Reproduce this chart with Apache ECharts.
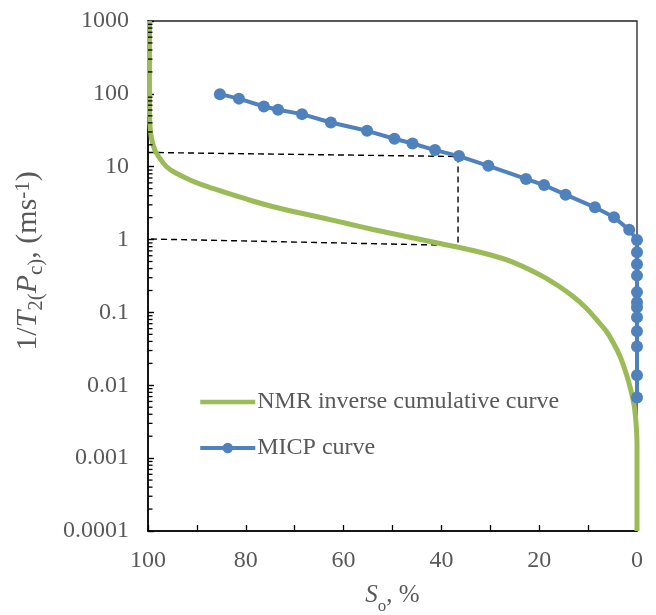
<!DOCTYPE html>
<html>
<head>
<meta charset="utf-8">
<script src="https://cdn.jsdelivr.net/npm/echarts@6/dist/echarts.min.js"></script>
<style>html,body{margin:0;padding:0;background:#fff}#c{width:656px;height:615px}</style>
</head>
<body>
<div id="c"></div>
<script>
// ---- data ----
const micpX = [85.3, 81.4, 76.3, 73.4, 68.5, 62.6, 55.2, 49.6, 45.9, 41.3, 36.4, 30.4, 22.7, 19.0, 14.6, 8.6, 4.7, 1.6, 0, 0, 0, 0, 0, 0, 0, 0, 0, 0, 0, 0];
const micpY = [99, 86, 67, 60.4, 52.7, 40.4, 31.1, 24.2, 20.8, 16.9, 14.0, 10.3, 6.8, 5.6, 4.13, 2.77, 2.02, 1.36, 0.99, 0.67, 0.46, 0.32, 0.19, 0.138, 0.118, 0.086, 0.055, 0.034, 0.0137, 0.0068];

const nmrX = [99.7, 99.7, 99.7, 99.6, 99.3, 98.6, 97.5, 96.2, 94.5, 91.4, 88.3, 84.7, 79.6, 74.4, 69.3, 64.2, 59.1, 54.0, 47.2, 40.3, 33.5, 26.6, 19.8, 16.2, 13.0, 10.4, 8.2, 6.3, 4.8, 3.5, 2.45, 1.7, 1.1, 0.6, 0.3, 0.1, 0, 0];
const nmrY = [1000, 292, 82, 37.4, 24.8, 16.9, 12.8, 10.0, 8.33, 6.58, 5.44, 4.54, 3.55, 2.82, 2.35, 1.98, 1.65, 1.375, 1.10, 0.883, 0.708, 0.525, 0.327, 0.234, 0.164, 0.115, 0.0787, 0.0556, 0.0377, 0.0252, 0.0162, 0.0111, 0.00776, 0.00537, 0.0037, 0.00243, 0.00152, 0.0001];

const guideX = [100, 36.6, 36.6, 100];
const guideY = [15.7, 13.8, 0.83, 1.02];

const xTickValues = [0, 20, 40, 60, 80, 100];
const yDecades = [0.0001, 0.001, 0.01, 0.1, 1, 10, 100];
const yMinorMultipliers = [2, 3, 4, 5, 6, 7, 8, 9];

const seriesNames = ['NMR inverse cumulative curve', 'MICP curve'];

// ---- build ----
const zip = (a, b) => a.map((v, i) => [v, b[i]]);
const minorTicks = [];
yDecades.forEach(d => yMinorMultipliers.forEach(m => minorTicks.push([100, +(d * m).toPrecision(2)])));

const FONT = 'Liberation Serif';
const GRAY = '#595959';

const chart = echarts.init(document.getElementById('c'));
chart.setOption({
  animation: false,
  backgroundColor: '#fff',
  grid: { left: 148, right: 19, top: 21, bottom: 84, containLabel: false, outerBoundsMode: 'none', show: true, borderColor: '#222', borderWidth: 1.3, backgroundColor: 'transparent' },
  legend: {
    data: [
      { name: seriesNames[0], itemStyle: { opacity: 0 }, lineStyle: { width: 4.5 } },
      { name: seriesNames[1], lineStyle: { width: 4 } }
    ],
    orient: 'vertical',
    left: 198, top: 390, padding: 0,
    itemWidth: 55, itemHeight: 13, itemGap: 22,
    textStyle: { fontFamily: FONT, fontSize: 24, color: GRAY, padding: [0, 0, 0, -3] }
  },
  xAxis: {
    type: 'value', inverse: true, min: 0, max: 100, interval: 20,
    axisLine: { show: true, onZero: false, lineStyle: { color: '#000', width: 1.6 } },
    axisTick: { show: true, inside: true, length: 6, lineStyle: { color: '#000', width: 1.3 } },
    minorTick: { show: true, splitNumber: 2, length: 6, lineStyle: { color: '#000', width: 1.3 } },
    splitLine: { show: false },
    axisLabel: { fontFamily: FONT, fontSize: 24, color: GRAY, margin: 18, formatter: v => xTickValues.includes(v) ? String(v) : '' },
    name: '{i|S}{s|o}{n|, %}',
    nameLocation: 'middle', nameGap: 52,
    nameTextStyle: {
      fontFamily: FONT, fontSize: 25, color: GRAY,
      rich: {
        n: { fontFamily: FONT, fontSize: 25, color: GRAY, lineHeight: 26, verticalAlign: 'top' },
        i: { fontFamily: FONT, fontSize: 25, color: GRAY, fontStyle: 'italic', lineHeight: 26, verticalAlign: 'top' },
        s: { fontFamily: FONT, fontSize: 17, color: GRAY, lineHeight: 32, verticalAlign: 'bottom' }
      }
    }
  },
  yAxis: {
    type: 'log', logBase: 10, min: 0.0001, max: 1000,
    axisLine: { show: true, onZero: false, lineStyle: { color: '#000', width: 1.6 } },
    axisTick: { show: true, inside: true, length: 6, lineStyle: { color: '#000', width: 1.4 } },
    splitLine: { show: false },
    axisLabel: { fontFamily: FONT, fontSize: 24, color: GRAY, margin: 19, formatter: v => String(+(+v).toPrecision(1)) },
    name: '{n|1/}{i|T}{s|2(}{i|P}{s|c)}{n|, (ms}{p|-1}{n|)}',
    nameLocation: 'middle', nameGap: 101, nameRotate: 90,
    nameTextStyle: {
      fontFamily: FONT, fontSize: 30, color: GRAY, padding: [0, 0, 0, 30],
      rich: {
        n: { fontFamily: FONT, fontSize: 30, color: GRAY, lineHeight: 30, verticalAlign: 'top' },
        i: { fontFamily: FONT, fontSize: 30, color: GRAY, fontStyle: 'italic', lineHeight: 30, verticalAlign: 'top' },
        s: { fontFamily: FONT, fontSize: 21, color: GRAY, lineHeight: 34, verticalAlign: 'bottom' },
        p: { fontFamily: FONT, fontSize: 21, color: GRAY, lineHeight: 17, verticalAlign: 'top' }
      }
    }
  },
  series: [
    {
      type: 'scatter', name: 'minorTicks', silent: true, clip: false, z: 6,
      symbol: 'rect', symbolSize: [4.5, 1.3], symbolOffset: [2.25, 0],
      itemStyle: { color: '#000', opacity: 1 },
      data: minorTicks
    },
    {
      type: 'line', name: 'guide', data: zip(guideX, guideY), showSymbol: false, symbol: 'none', silent: true,
      lineStyle: { color: '#000', width: 1.4, type: [6, 4] }, z: 3
    },
    {
      type: 'line', name: seriesNames[0], data: zip(nmrX, nmrY), showSymbol: false, symbol: 'none', smooth: 0.25, clip: false,
      lineStyle: { color: '#9BBB59', width: 5 }, itemStyle: { color: '#9BBB59' }, z: 4
    },
    {
      type: 'line', name: seriesNames[1], data: zip(micpX, micpY), symbol: 'circle', symbolSize: 12, clip: false,
      lineStyle: { color: '#4F81BD', width: 4 }, itemStyle: { color: '#4F81BD' }, z: 5
    }
  ]
});
</script>
</body>
</html>
